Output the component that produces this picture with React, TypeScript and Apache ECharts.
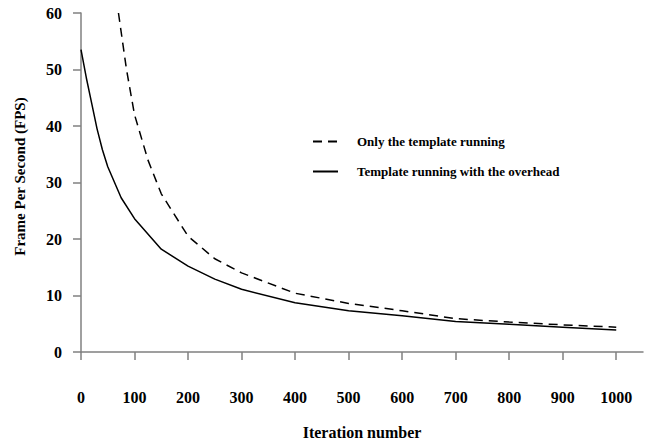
import React, { useEffect, useRef } from "react";
import * as echarts from "echarts";

// Iteration counts and measured frame rates for each configuration
const iterTemplate = [70, 85, 100, 125, 150, 200, 250, 300, 400, 500, 600, 700, 800, 900, 1000];
const fpsTemplate = [60, 50, 42, 34, 28, 20.5, 16.5, 14, 10.4, 8.6, 7.3, 5.9, 5.3, 4.8, 4.4];

const iterOverhead = [0, 10, 20, 30, 40, 50, 75, 100, 150, 200, 250, 300, 400, 500, 600, 700, 800, 900, 1000];
const fpsOverhead = [53.5, 48.5, 44, 39.5, 35.8, 32.8, 27.3, 23.6, 18.2, 15.2, 12.9, 11.1, 8.7, 7.3, 6.4, 5.4, 4.9, 4.4, 3.9];

const seriesNames = ["Only the template running", "Template running with the overhead"];

const FONT = "'Liberation Serif', 'Times New Roman', serif";
const AXIS_GRAY = "#808080";

export default function App() {
  const ref = useRef<HTMLDivElement>(null);

  useEffect(() => {
    if (!ref.current) return;
    const chart = echarts.init(ref.current, null, { renderer: "svg" });
    const zip = (xs: number[], ys: number[]) => xs.map((x, i) => [x, ys[i]]);

    chart.setOption({
      animation: false,
      backgroundColor: "#ffffff",
      textStyle: { fontFamily: FONT },
      grid: {
        left: 81,
        top: 13,
        right: 8,
        bottom: 91,
        containLabel: false,
        outerBoundsMode: "none",
      },
      legend: {
        orient: "vertical",
        left: 312,
        top: 135,
        padding: 0,
        itemWidth: 25,
        itemHeight: 14,
        itemGap: 17,
        data: seriesNames,
        itemStyle: { opacity: 0 },
        textStyle: {
          fontFamily: FONT,
          fontWeight: "bold",
          fontSize: 13,
          color: "#000",
          padding: [0, 0, 0, 14],
        },
      },
      xAxis: {
        type: "value",
        min: 0,
        max: 1050,
        interval: 100,
        name: "Iteration number",
        nameLocation: "middle",
        nameGap: 72,
        nameTextStyle: { fontFamily: FONT, fontWeight: "bold", fontSize: 16, color: "#000" },
        splitLine: { show: false },
        axisLine: { lineStyle: { color: AXIS_GRAY, width: 1.5 } },
        axisTick: { length: 8, lineStyle: { color: AXIS_GRAY, width: 1.5 } },
        axisLabel: {
          margin: 37,
          fontFamily: FONT,
          fontWeight: "bold",
          fontSize: 16,
          color: "#000",
          showMaxLabel: false,
          formatter: (v: number) => String(v),
        },
      },
      yAxis: {
        type: "value",
        min: 0,
        max: 60,
        interval: 10,
        name: "Frame Per Second (FPS)",
        nameLocation: "middle",
        nameGap: 54,
        nameTextStyle: {
          fontFamily: FONT,
          fontWeight: "bold",
          fontSize: 15,
          color: "#000",
          padding: [0, 0, 0, 12],
        },
        splitLine: { show: false },
        axisLine: { show: true, lineStyle: { color: AXIS_GRAY, width: 1.5 } },
        axisTick: { show: true, length: 8, lineStyle: { color: AXIS_GRAY, width: 1.5 } },
        axisLabel: { margin: 19, fontFamily: FONT, fontWeight: "bold", fontSize: 16, color: "#000" },
      },
      series: [
        {
          name: seriesNames[0],
          type: "line",
          data: zip(iterTemplate, fpsTemplate),
          symbol: "none",
          clip: true,
          lineStyle: { color: "#000", width: 1.5, type: [9, 6] },
          itemStyle: { color: "#000" },
        },
        {
          name: seriesNames[1],
          type: "line",
          data: zip(iterOverhead, fpsOverhead),
          symbol: "none",
          clip: true,
          lineStyle: { color: "#000", width: 1.5, type: "solid" },
          itemStyle: { color: "#000" },
        },
      ],
    });

    return () => chart.dispose();
  }, []);

  return (
    <div
      ref={ref}
      style={{ position: "fixed", left: 0, top: 0, width: 651, height: 443, background: "#fff" }}
    />
  );
}
